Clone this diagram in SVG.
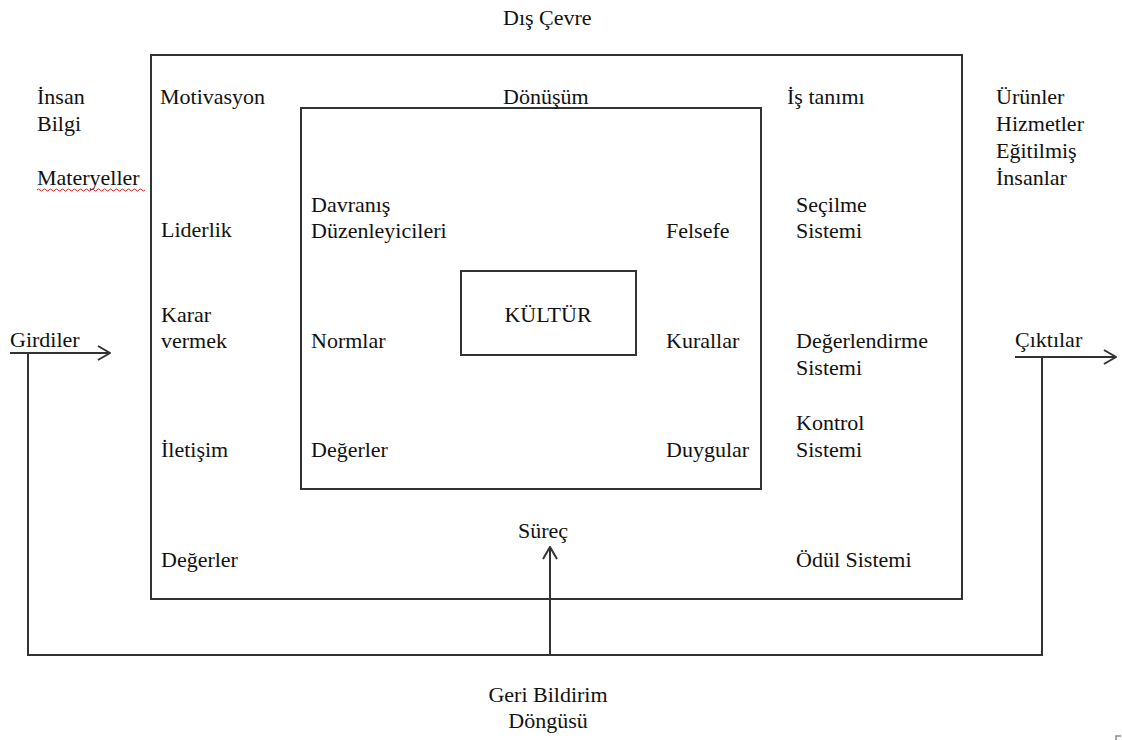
<svg xmlns="http://www.w3.org/2000/svg" width="1122" height="740" viewBox="0 0 1122 740">
<style>
text{font-size:22px;fill:#111}
.box{fill:none;stroke:#333;stroke-width:2}
.ln{fill:none;stroke:#333;stroke-width:2}
.mid{text-anchor:middle}
</style>
<defs>
<marker id="ah" viewBox="0 0 14 16" refX="13" refY="8" markerWidth="14" markerHeight="16" markerUnits="userSpaceOnUse" orient="auto">
<path d="M1,1 L13,8 L1,15" fill="none" stroke="#333" stroke-width="2"/>
</marker>
</defs>
<rect width="1122" height="740" fill="#fff"/>
<g font-family="Liberation Serif, Times New Roman, DejaVu Serif, serif">

<g id="outer-box">
<rect class="box" x="151" y="55" width="811" height="544"/>
</g>
<g id="inner-box">
<rect class="box" x="301" y="108" width="460" height="381"/>
</g>
<g id="kultur">
<rect class="box" x="461" y="271" width="175" height="84"/>
<text x="548" y="322" class="mid">KÜLTÜR</text>
</g>

<g id="connectors">
<line class="ln" x1="10" y1="353" x2="110" y2="353" marker-end="url(#ah)"/>
<polyline class="ln" points="28,353 28,655 1042,655 1042,357"/>
<line class="ln" x1="1015" y1="357" x2="1116" y2="357" marker-end="url(#ah)"/>
<line class="ln" x1="550" y1="655" x2="550" y2="547" marker-end="url(#ah)"/>
</g>

<g id="dis-cevre"><text x="503" y="25">Dış Çevre</text></g>

<g id="inputs">
<text x="37" y="104">İnsan</text>
<text x="37" y="131">Bilgi</text>
<text x="37" y="185">Materyeller</text>
<path d="M37,190 q1.5,-2 3,0 t3,0 t3,0 t3,0 t3,0 t3,0 t3,0 t3,0 t3,0 t3,0 t3,0 t3,0 t3,0 t3,0 t3,0 t3,0 t3,0 t3,0 t3,0 t3,0 t3,0 t3,0 t3,0 t3,0 t3,0 t3,0 t3,0 t3,0 t3,0 t3,0 t3,0 t3,0 t3,0 t3,0 t3,0 t3,0" fill="none" stroke="#e02020" stroke-width="1"/>
</g>

<g id="outputs">
<text x="996" y="104">Ürünler</text>
<text x="996" y="131">Hizmetler</text>
<text x="996" y="158">Eğitilmiş</text>
<text x="996" y="185">İnsanlar</text>
</g>

<g id="girdiler"><text x="10" y="347">Girdiler</text></g>
<g id="ciktilar"><text x="1015" y="347">Çıktılar</text></g>

<g id="left-column">
<text x="160" y="104">Motivasyon</text>
<text x="161" y="237">Liderlik</text>
<text x="161" y="322">Karar</text>
<text x="161" y="348">vermek</text>
<text x="161" y="457">İletişim</text>
<text x="161" y="567">Değerler</text>
</g>

<g id="donusum"><text x="503" y="104">Dönüşüm</text></g>

<g id="right-column">
<text x="787" y="104">İş tanımı</text>
<text x="796" y="212">Seçilme</text>
<text x="796" y="238">Sistemi</text>
<text x="796" y="348">Değerlendirme</text>
<text x="796" y="375">Sistemi</text>
<text x="796" y="430">Kontrol</text>
<text x="796" y="457">Sistemi</text>
<text x="796" y="567">Ödül Sistemi</text>
</g>

<g id="inner-left">
<text x="311" y="212">Davranış</text>
<text x="311" y="238">Düzenleyicileri</text>
<text x="311" y="348">Normlar</text>
<text x="311" y="457">Değerler</text>
</g>

<g id="inner-right">
<text x="666" y="238">Felsefe</text>
<text x="666" y="348">Kurallar</text>
<text x="666" y="457">Duygular</text>
</g>

<g id="surec"><text x="543" y="538" class="mid">Süreç</text></g>
<g id="geri-bildirim">
<text x="548" y="702" class="mid">Geri Bildirim</text>
<text x="548" y="728" class="mid">Döngüsü</text>
</g>
</g>

<path d="M1116,740 L1116,736 L1121,736" fill="none" stroke="#888" stroke-width="1.5"/>
</svg>
